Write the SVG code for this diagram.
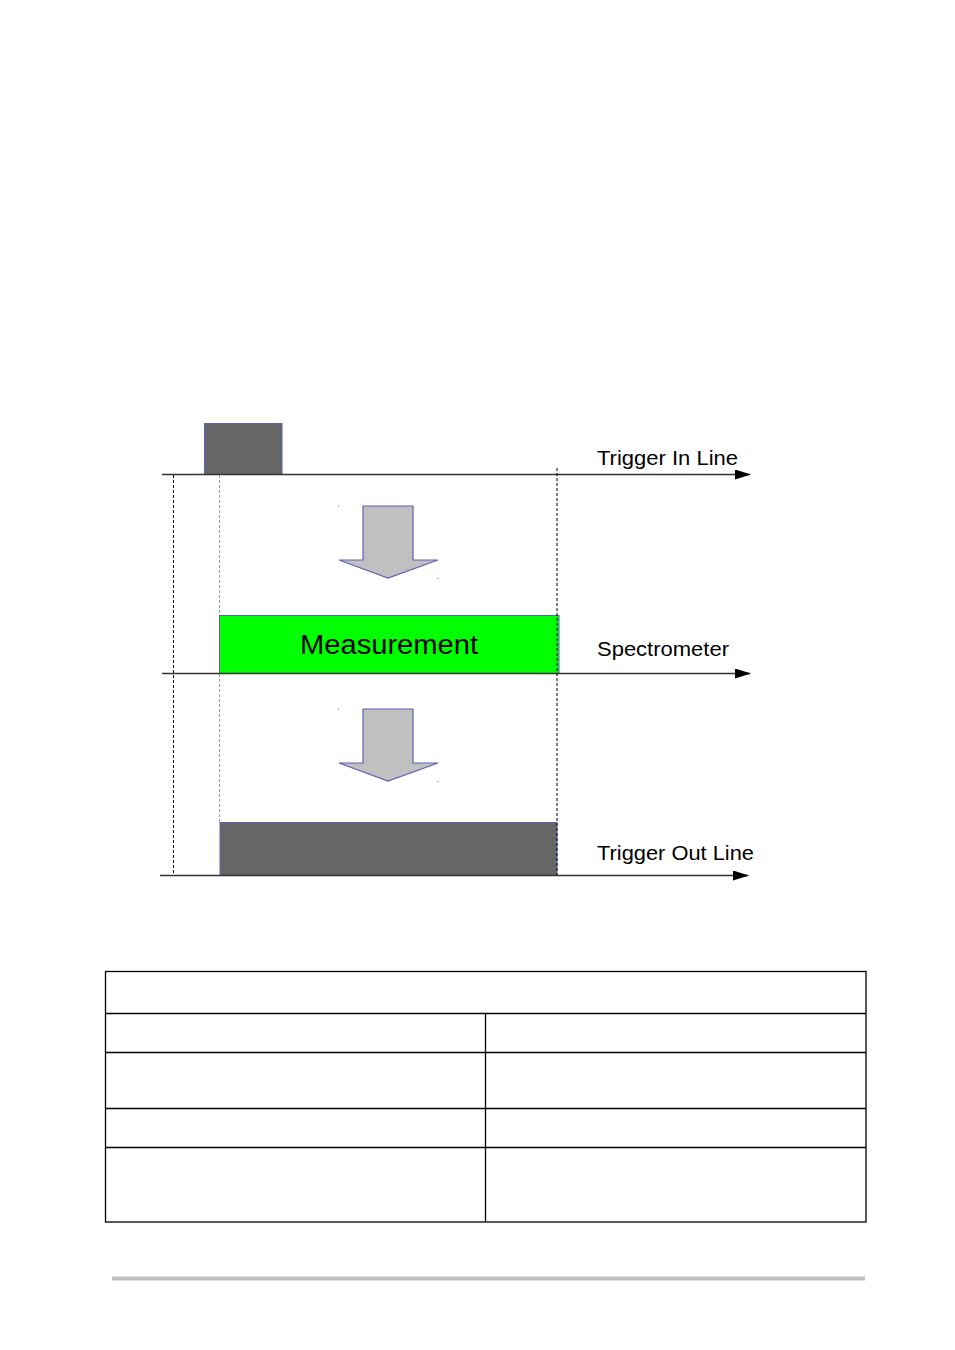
<svg xmlns="http://www.w3.org/2000/svg" width="955" height="1350" viewBox="0 0 955 1350">
<style>
.lbl{font-family:"Liberation Sans",Arial,sans-serif;font-size:20px;fill:#000}
.axis{stroke:#333;stroke-width:1.5;fill:none}
.dash{stroke:#000;stroke-width:1;stroke-dasharray:3,2;fill:none}
.dashg{stroke:#999;stroke-width:1;stroke-dasharray:3,2;fill:none}
.pulse{fill:#666;stroke:#5a62b5;stroke-width:1}
.bigarrow{fill:#c0c0c0;stroke:#5a62b5;stroke-width:1.2}
.cell{fill:none;stroke:#000;stroke-width:1.3}
</style>
<defs>
<marker id="ah" markerWidth="16" markerHeight="10" refX="15" refY="5" orient="auto" markerUnits="userSpaceOnUse">
<path d="M0,0 L16,5 L0,10 Z" fill="#000"/>
</marker>
</defs>
<rect width="955" height="1350" fill="#fff"/>
<g id="trigger-in-pulse">
<rect class="pulse" x="204.5" y="423.5" width="77.5" height="51"/>
</g>
<g id="arrow1">
<path class="bigarrow" d="M363,506 L413,506 L413,560 L438,560 L388,578 L339,560 L363,560 Z"/>
<rect x="338" y="505.5" width="1" height="1" fill="#5a62b5"/>
<rect x="437.5" y="578" width="1" height="1" fill="#5a62b5"/>
</g>
<g id="measurement">
<rect x="219.5" y="615.5" width="339.5" height="58" fill="#00ff00" stroke="#5a62b5" stroke-width="1"/>
<text x="389" y="654" text-anchor="middle" style="font-family:'Liberation Sans',Arial,sans-serif;font-size:27px" textLength="178" lengthAdjust="spacingAndGlyphs">Measurement</text>
</g>
<g id="arrow2">
<path class="bigarrow" d="M363,709 L413,709 L413,763 L438,763 L388,781 L339,763 L363,763 Z"/>
<rect x="338" y="708.5" width="1" height="1" fill="#5a62b5"/>
<rect x="437.5" y="781" width="1" height="1" fill="#5a62b5"/>
</g>
<g id="trigger-out-pulse">
<rect class="pulse" x="220" y="822.5" width="337" height="53"/>
</g>
<g id="connectors">
<line class="axis" x1="162" y1="474.5" x2="750" y2="474.5" marker-end="url(#ah)"/>
<line class="axis" x1="162" y1="673.5" x2="750" y2="673.5" marker-end="url(#ah)"/>
<line class="axis" x1="160" y1="875.5" x2="748" y2="875.5" marker-end="url(#ah)"/>
<line class="dash" x1="173.5" y1="475" x2="173.5" y2="875"/>
<line class="dashg" x1="219.5" y1="475" x2="219.5" y2="615"/>
<line class="dashg" x1="219.5" y1="674" x2="219.5" y2="822"/>
<line class="dash" x1="557" y1="468" x2="557" y2="875"/>
</g>
<g id="labels">
<text class="lbl" x="597" y="465" textLength="141" lengthAdjust="spacingAndGlyphs">Trigger In Line</text>
<text class="lbl" x="597" y="656" textLength="132" lengthAdjust="spacingAndGlyphs">Spectrometer</text>
<text class="lbl" x="597" y="860" textLength="157" lengthAdjust="spacingAndGlyphs">Trigger Out Line</text>
</g>
<g id="table">
<rect class="cell" x="105.5" y="971.5" width="760.5" height="250.5"/>
<line class="cell" x1="105.5" y1="1013.5" x2="866" y2="1013.5"/>
<line class="cell" x1="105.5" y1="1052.5" x2="866" y2="1052.5"/>
<line class="cell" x1="105.5" y1="1108.5" x2="866" y2="1108.5"/>
<line class="cell" x1="105.5" y1="1147.5" x2="866" y2="1147.5"/>
<line class="cell" x1="485.5" y1="1013.5" x2="485.5" y2="1222"/>
</g>
<line x1="112" y1="1278.5" x2="865" y2="1278.5" stroke="#c0c0c0" stroke-width="4"/>
</svg>
